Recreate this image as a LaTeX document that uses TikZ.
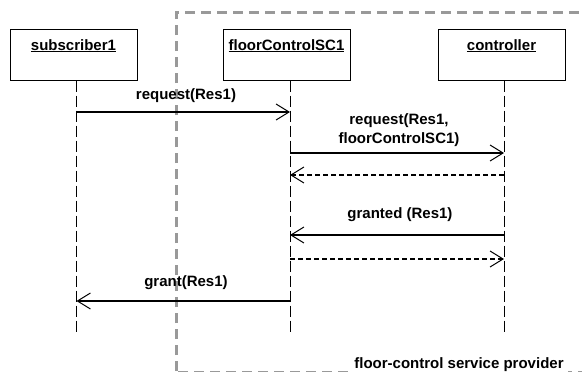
\documentclass[tikz,border=0pt]{standalone}
\usepackage{fontspec}
\setmainfont{Liberation Sans}
\usetikzlibrary{arrows.meta}
\definecolor{framegray}{RGB}{153,153,153}
\begin{document}
\begin{tikzpicture}[x=1pt,y=-1pt,
  every node/.style={font=\fontsize{15}{19}\selectfont\bfseries},
  lifebox/.style={draw=black, line width=1pt, minimum width=127pt, minimum height=51pt, inner sep=0pt},
  boxlbl/.style={inner sep=0pt, anchor=base},
  life/.style={line width=1pt, dash pattern=on 11pt off 4pt},
  msg/.style={line width=1.1pt, -{Straight Barb[length=13pt,width=16pt,line width=1pt]}},
  reply/.style={msg, dash pattern=on 5pt off 3pt},
  msglbl/.style={inner sep=0pt, anchor=base, align=center},
  frame/.style={draw=framegray, line width=3pt, dash pattern=on 10pt off 6pt}
]
\path[use as bounding box, clip] (0,0) rectangle (582,372);
\fill[white] (0,0) rectangle (582,372);

% boundary of the service provider
\draw[frame] (176,371) -- (176,12) -- (600,12);
\draw[draw=framegray, line width=1.3pt, dash pattern=on 10pt off 6pt] (178,371.2) -- (600,371.2);

% participants
\node[lifebox] (sub) at (73.5,54.5) {};
\node[lifebox] (fc) at (286.5,54.5) {};
\node[lifebox] (ctl) at (501.5,54.5) {};
\node[boxlbl] (subL) at (73.5,50) {\underline{subscriber1}};
\node[boxlbl] (fcL) at (286.5,50) {\underline{floorControlSC1}};
\node[boxlbl] (ctlL) at (501.5,50) {\underline{controller}};

% lifelines
\coordinate (subE) at (76.5,333);
\coordinate (fcE) at (290,333);
\coordinate (ctlE) at (504,333);
\draw[life] (sub.south -| subE) -- (subE);
\draw[life] (fc.south -| fcE) -- (fcE);
\draw[life] (ctl.south -| ctlE) -- (ctlE);

% messages
\draw[msg] (subE |- 0,112) -- (fcE |- 0,112);
\node[msglbl] (m1) at (186,99) {request(Res1)};

\draw[msg] (fcE |- 0,153) -- (ctlE |- 0,153);
\node[msglbl, anchor=south] (m2) at (399,147) {request(Res1,\\floorControlSC1)};

\draw[reply] (ctlE |- 0,175) -- (fcE |- 0,175);

\draw[msg] (ctlE |- 0,235) -- (fcE |- 0,235);
\node[msglbl] (m4) at (400,218) {granted (Res1)};

\draw[reply] (fcE |- 0,259) -- (ctlE |- 0,259);

\draw[msg] (fcE |- 0,301) -- (subE |- 0,301);
\node[msglbl] (m6) at (186,286) {grant(Res1)};

% frame name
\node[msglbl, fill=white, inner xsep=4pt, inner ysep=2pt] (prov) at (459,368) {floor-control service provider};
\end{tikzpicture}
\end{document}
